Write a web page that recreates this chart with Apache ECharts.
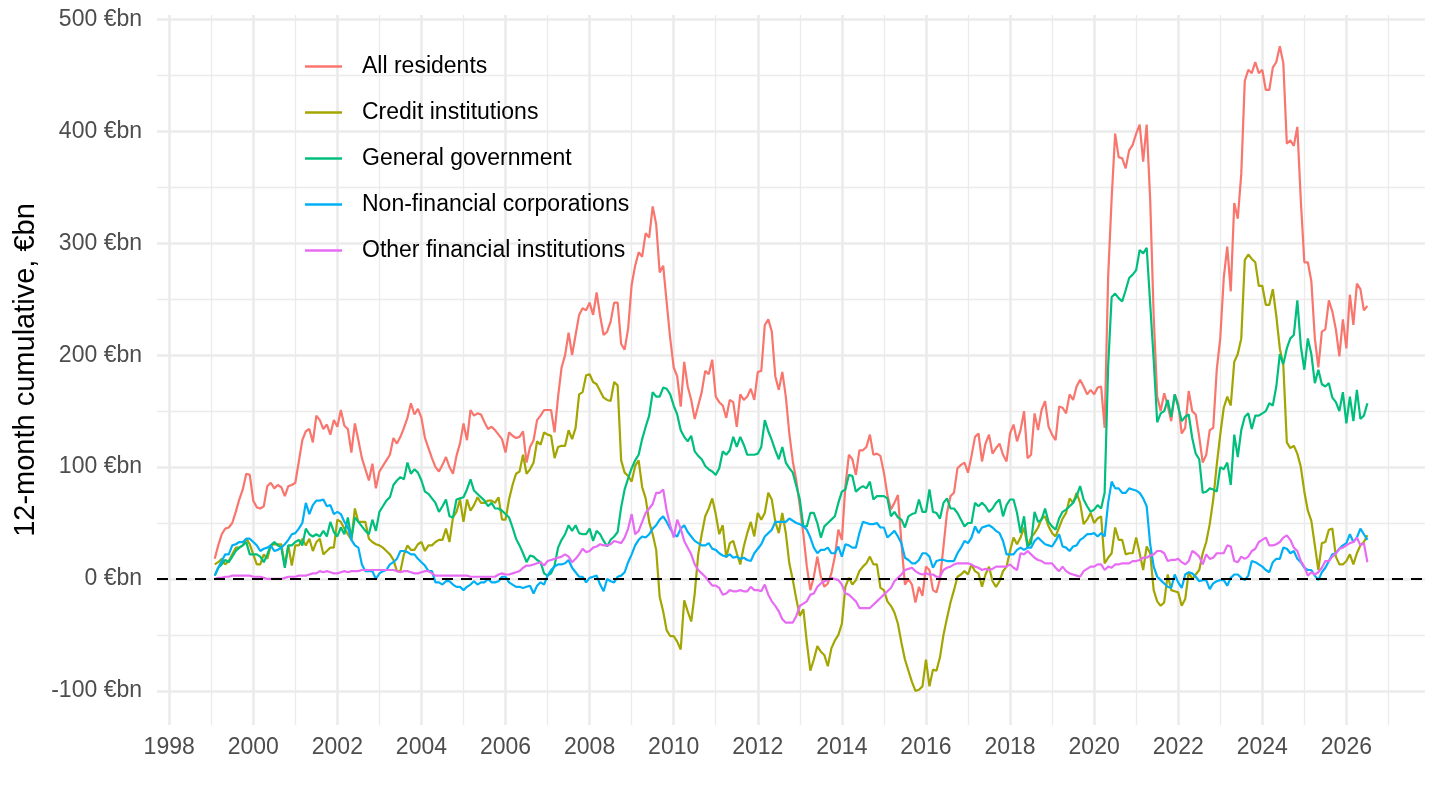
<!DOCTYPE html>
<html>
<head>
<meta charset="utf-8">
<script src="https://cdn.jsdelivr.net/npm/echarts@6/dist/echarts.min.js"></script>
<style>
  html, body { margin: 0; padding: 0; background: #ffffff; }
  #chart { width: 1440px; height: 810px; }
</style>
</head>
<body>
<div id="chart"></div>
<script>
// 12-month cumulative flows, €bn, monthly from Jan 1999 to Jun 2026 (month-end)
var startYear = 1999;

var seriesNames = ['All residents', 'Credit institutions', 'General government',
                   'Non-financial corporations', 'Other financial institutions'];
var seriesColors = ['#F8766D', '#A3A500', '#00BF7D', '#00B0F6', '#E76BF3'];

var allResidents = [
  18, 30, 40, 45, 46, 50, 60, 71, 80, 94, 93,
  70, 64, 63, 65, 83, 86, 81, 84, 82, 74, 83, 84,
  86, 105, 124, 132, 134, 122, 146, 142, 134, 138, 129, 142,
  136, 151, 137, 134, 113, 139, 124, 108, 98, 88, 103, 81,
  96, 101, 106, 111, 126, 121, 127, 135, 144, 157, 147, 152,
  144, 126, 117, 108, 100, 96, 102, 109, 100, 94, 110, 121,
  139, 124, 151, 146, 148, 147, 140, 134, 136, 133, 129, 125,
  113, 131, 128, 126, 127, 132, 104, 118, 124, 142, 146, 151,
  151, 151, 131, 163, 189, 200, 220, 200, 218, 236, 242, 240,
  247, 236, 256, 235, 218, 221, 230, 247, 247, 210, 205, 224,
  263, 280, 292, 288, 309, 305, 333, 317, 274, 280, 247, 215,
  189, 181, 154, 194, 172, 160, 143, 155, 167, 186, 183, 196,
  163, 158, 155, 144, 160, 158, 136, 165, 160, 163, 170, 160,
  185, 186, 227, 232, 221, 181, 169, 185, 163, 130, 105, 88,
  65, 40, 11, -10, 2, 20, 2, -7, -4, 5, 20, 44,
  35, 83, 111, 107, 93, 115, 115, 118, 129, 111, 112, 110,
  95, 75, 62, 68, 75, 32, -5, 0, -5, -21, -7, -15,
  11, 8, -10, -12, 0, 29, 59, 74, 77, 99, 102, 104,
  95, 110, 127, 130, 105, 121, 129, 112, 117, 121, 111, 105,
  130, 138, 123, 133, 150, 108, 111, 148, 133, 151, 159, 136,
  129, 124, 154, 153, 148, 165, 160, 172, 178, 172, 165, 169,
  165, 171, 172, 135, 270, 340, 398, 377, 376, 367, 383, 388,
  398, 406, 373, 406, 339, 235, 163, 150, 166, 155, 141, 165,
  157, 130, 135, 168, 150, 147, 127, 104, 111, 133, 135, 187,
  215, 269, 297, 257, 336, 322, 362, 445, 455, 452, 462, 452,
  455, 437, 437, 457, 462, 476, 461, 389, 392, 387, 404, 338,
  283, 283, 266, 215, 189, 221, 223, 249, 239, 223, 199, 232,
  206, 254, 227, 264, 259, 240, 244
];

var creditInstitutions = [
  13, 15, 18, 13, 16, 22, 28, 28, 30, 36, 31,
  22, 13, 13, 22, 18, 30, 31, 31, 31, 12, 30, 12,
  30, 30, 36, 30, 36, 25, 33, 36, 22, 25, 28, 28,
  53, 51, 45, 40, 35, 63, 51, 51, 51, 36, 33, 31,
  30, 28, 25, 22, 17, 7, 7, 22, 30, 26, 26, 31,
  33, 25, 30, 30, 33, 35, 35, 45, 33, 55, 60, 71,
  51, 71, 61, 66, 73, 68, 68, 70, 70, 68, 73, 53,
  53, 71, 84, 94, 96, 111, 94, 98, 104, 123, 120, 131,
  129, 128, 108, 118, 119, 119, 133, 125, 135, 165, 167, 182,
  183, 176, 174, 168, 162, 160, 159, 176, 173, 106, 95, 92,
  87, 101, 106, 82, 72, 51, 40, 26, -16, -29, -46, -51,
  -51, -56, -63, -19, -29, -38, -13, 22, 40, 56, 63, 72,
  58, 40, 48, 19, 32, 34, 23, 13, 29, 41, 51, 38,
  59, 53, 59, 77, 71, 51, 41, 59, 41, 14, -1, -18,
  -33, -27, -57, -82, -72, -60, -65, -68, -78, -62, -55, -50,
  -40, -7, 1, -5, -1, 7, 11, 14, 20, 13, 13, -8,
  -10, -20, -24, -30, -40, -57, -72, -82, -92, -100, -99, -96,
  -72, -96, -81, -82, -70, -50, -35, -21, -10, 2, 4, 7,
  4, 13, 7, 5, -7, 4, 11, -2, -7, -2, 7, 11,
  25, 37, 31, 37, 46, 29, 37, 41, 46, 54, 56, 47,
  41, 38, 46, 54, 59, 72, 68, 77, 68, 49, 53, 59,
  50, 54, 56, 14, 19, 23, 46, 35, 35, 22, 23, 23,
  37, 23, 8, 29, 23, -10, -20, -24, -21, 4, -10, -11,
  -12, -24, -18, 6, 0, 4, 8, 23, 33, 49, 71, 102,
  129, 153, 163, 155, 194, 201, 215, 285, 290, 286, 283, 262,
  262, 245, 245, 259, 235, 206, 191, 122, 117, 119, 112, 100,
  78, 61, 52, 30, 8, 32, 33, 44, 45, 20, 13, 13,
  16, 22, 13, 23, 30, 33, 39
];

var generalGovernment = [
  3, 10, 13, 17, 15, 20, 25, 28, 30, 33, 22,
  22, 22, 20, 15, 22, 30, 33, 30, 28, 10, 30, 30,
  33, 35, 30, 45, 40, 38, 40, 38, 43, 38, 51, 42,
  38, 46, 40, 55, 36, 55, 51, 47, 43, 40, 53, 43,
  60, 65, 70, 73, 84, 88, 91, 89, 104, 94, 98, 95,
  88, 78, 76, 72, 68, 60, 65, 71, 56, 55, 71, 72,
  73, 80, 89, 79, 76, 73, 70, 65, 68, 63, 63, 61,
  58, 55, 46, 36, 30, 23, 15, 21, 20, 17, 15, 5,
  3, 5, 12, 28, 35, 40, 48, 43, 48, 41, 40, 40,
  45, 34, 43, 40, 34, 29, 35, 38, 42, 64, 80, 90,
  99, 106, 111, 125, 136, 146, 167, 163, 163, 171, 170, 165,
  155, 147, 133, 127, 123, 128, 114, 110, 107, 101, 98, 96,
  93, 99, 114, 111, 115, 127, 118, 127, 120, 111, 111, 111,
  112, 118, 142, 132, 124, 115, 107, 118, 104, 99, 95, 83,
  71, 47, 47, 59, 59, 50, 37, 47, 50, 53, 56, 68,
  78, 80, 93, 92, 78, 81, 83, 81, 87, 71, 74, 74,
  74, 72, 56, 60, 55, 53, 46, 56, 58, 59, 71, 60,
  60, 80, 60, 59, 54, 68, 72, 63, 63, 59, 53, 47,
  50, 50, 68, 65, 68, 65, 60, 63, 68, 71, 56, 66,
  71, 71, 59, 41, 56, 29, 32, 60, 51, 53, 63, 51,
  47, 44, 54, 60, 62, 65, 68, 74, 83, 71, 65, 60,
  62, 66, 63, 77, 190, 252, 255, 251, 248, 258, 269, 272,
  276, 294, 291, 296, 246, 196, 140, 148, 150, 160, 145, 165,
  154, 141, 145, 147, 126, 112, 107, 77, 78, 81, 80, 78,
  100, 98, 104, 84, 129, 109, 133, 145, 148, 134, 146, 146,
  148, 150, 157, 155, 172, 201, 192, 206, 215, 218, 249, 208,
  187, 215, 201, 175, 187, 174, 172, 175, 162, 158, 150, 167,
  139, 163, 141, 169, 143, 146, 157
];

var nonFinancialCorps = [
  3, 10, 16, 22, 22, 30, 31, 33, 33, 36, 36,
  33, 30, 25, 27, 28, 30, 25, 26, 28, 31, 35, 40,
  41, 45, 50, 68, 58, 66, 70, 70, 71, 65, 66, 58,
  60, 58, 51, 46, 35, 30, 28, 13, 7, 7, 7, 0,
  5, 7, 8, 13, 15, 18, 25, 25, 24, 22, 22, 18,
  15, 12, 7, 7, -3, -3, -5, -2, -2, -5, -7, -7,
  -10, -7, -5, -2, -5, -3, -3, 0, -3, -3, -2, 2,
  2, -3, -5, -7, -7, -8, -7, -6, -13, -6, -3, -5,
  3, 8, 11, 13, 13, 14, 17, 10, 6, 2, 2, -3,
  1, 2, 3, -5, -11, 0, -2, -3, 2, 3, 6, 15,
  22, 30, 35, 38, 37, 40, 45, 48, 53, 56, 51, 45,
  40, 38, 45, 48, 42, 38, 34, 32, 30, 30, 32, 27,
  26, 23, 21, 20, 22, 19, 20, 18, 19, 17, 16, 23,
  27, 31, 38, 41, 44, 51, 51, 51, 51, 54, 52, 50,
  49, 47, 44, 37, 28, 23, 26, 26, 28, 23, 23, 29,
  20, 31, 30, 28, 28, 41, 51, 50, 49, 49, 50, 46,
  46, 37, 40, 43, 38, 32, 19, 17, 14, 14, 17, 23,
  23, 20, 10, 16, 17, 17, 16, 16, 16, 23, 28, 34,
  32, 37, 47, 41, 46, 47, 48, 46, 43, 41, 34, 22,
  22, 22, 26, 28, 26, 28, 28, 34, 37, 34, 31, 30,
  29, 34, 40, 29, 28, 25, 29, 30, 35, 37, 40, 40,
  41, 38, 41, 38, 68, 87, 81, 81, 77, 77, 81, 80,
  79, 77, 72, 65, 31, 11, 2, -1, -4, -7, -8, 4,
  -3, -8, 4, 6, 5, 2, -2, -1, -1, -9, -4, -2,
  -1, -1, -6, 1, 4, 4, 1, -1, 3, 16, 15, 13,
  11, 8, 6, 15, 18, 18, 28, 27, 23, 25, 18, 15,
  10, 8, 8, 3, -1, 6, 10, 16, 22, 23, 27, 30,
  32, 40, 33, 37, 45, 40, 35
];

var otherFinancial = [
  0, 1, 1, 2, 2, 3, 3, 3, 3, 3, 3,
  2, 2, 2, 1, 0, 0, 0, 0, 0, 1, 2, 2,
  2, 3, 3, 3, 4, 5, 5, 7, 6, 7, 6, 5,
  5, 6, 7, 6, 7, 7, 7, 8, 8, 8, 8, 8,
  8, 8, 8, 8, 8, 7, 6, 7, 7, 6, 5, 5,
  6, 7, 7, 5, 3, 3, 3, 3, 3, 3, 3, 3,
  3, 3, 2, 2, 2, 2, 2, 2, 2, 2, 4, 5,
  4, 4, 5, 6, 7, 10, 12, 12, 13, 14, 15, 12,
  16, 17, 18, 19, 20, 22, 20, 15, 18, 22, 27, 24,
  25, 28, 29, 31, 30, 30, 31, 34, 33, 32, 37, 45,
  58, 40, 43, 51, 59, 63, 67, 77, 77, 80, 61, 48,
  37, 53, 45, 34, 28, 22, 13, 8, 5, 2, -2, -6,
  -6, -8, -14, -13, -10, -11, -11, -10, -11, -11, -7, -10,
  -10, -11, -5, -14, -20, -24, -29, -36, -39, -39, -39, -33,
  -24, -22, -20, -14, -13, -7, -4, -2, -1, 1, 0, -1,
  -5, -13, -14, -17, -20, -26, -26, -26, -26, -23, -20, -17,
  -14, -11, -8, -2, 1, 4, 8, 9, 10, 7, 5, 4,
  5, 4, 4, 2, 2, 8, 10, 11, 13, 14, 14, 14,
  14, 13, 11, 10, 8, 9, 8, 9, 11, 11, 11, 11,
  13, 10, 8, 23, 22, 25, 22, 19, 17, 16, 14, 14,
  14, 10, 7, 11, 7, 5, 4, 3, 2, 7, 9, 11,
  11, 13, 13, 8, 11, 10, 13, 13, 14, 14, 14, 16,
  16, 17, 19, 19, 21, 22, 25, 25, 23, 16, 17, 17,
  18, 15, 13, 16, 25, 23, 20, 13, 22, 18, 19, 23,
  23, 23, 30, 29, 16, 15, 20, 18, 20, 25, 27, 33,
  35, 37, 30, 30, 31, 33, 37, 39, 35, 28, 25, 16,
  11, 3, 6, 4, 6, 10, 16, 16, 20, 23, 27, 28,
  30, 32, 33, 37, 30, 32, 15
];

// axis ticks
var xMajorTicks = [1998, 2000, 2002, 2004, 2006, 2008, 2010, 2012, 2014, 2016, 2018, 2020, 2022, 2024, 2026];
var xMinorTicks = [1999, 2001, 2003, 2005, 2007, 2009, 2011, 2013, 2015, 2017, 2019, 2021, 2023, 2025, 2027];
var yMajorTicks = [-100, 0, 100, 200, 300, 400, 500];
var yMinorTicks = [-50, 50, 150, 250, 350, 450];

var font = '"Liberation Sans", Arial, Helvetica, sans-serif';
var gridColor = '#EBEBEB';

// month i of the series sits at the end of that month, as a decimal year
function toPairs(vals) {
    return vals.map(function (v, i) { return [startYear + (i + 1) / 12, v]; });
}

var allData = [allResidents, creditInstitutions, generalGovernment, nonFinancialCorps, otherFinancial];

var series = allData.map(function (vals, k) {
    var s = {
        name: seriesNames[k],
        type: 'line',
        data: toPairs(vals),
        symbol: 'none',
        lineStyle: { color: seriesColors[k], width: 2.2 },
        itemStyle: { color: seriesColors[k] },
        emphasis: { disabled: true }
    };
    if (k === allData.length - 1) {
        s.markLine = {
            silent: true,
            symbol: 'none',
            label: { show: false },
            lineStyle: { color: '#000000', type: [11, 8], width: 2.2 },
            data: [{ yAxis: 0 }]
        };
    }
    return s;
});

var chart = echarts.init(document.getElementById('chart'), null, { renderer: 'canvas' });

var option = {
    backgroundColor: '#ffffff',
    animation: false,
    textStyle: { fontFamily: font },
    grid: { left: 157, right: 15, top: 15, bottom: 85 },
    legend: {
        orient: 'vertical',
        left: 300,
        top: 50,
        icon: 'rect',
        itemWidth: 37,
        itemHeight: 2.5,
        itemGap: 23,
        textStyle: { fontFamily: font, fontSize: 23, color: '#000000', lineHeight: 23, padding: [0, 0, 0, 15] },
        data: seriesNames
    },
    xAxis: [{
        type: 'value',
        min: 1997.71,
        max: 2027.87,
        axisLine: { show: false },
        axisTick: { show: false, customValues: xMajorTicks },
        axisLabel: {
            customValues: xMajorTicks,
            color: '#4D4D4D', fontSize: 23, fontFamily: font, margin: 11,
            formatter: function (v) { return String(Math.round(v)); }
        },
        splitLine: { show: true, lineStyle: { color: gridColor, width: 2.6 } }
    }, {
        type: 'value',
        min: 1997.71,
        max: 2027.87,
        position: 'top',
        axisLine: { show: false },
        axisTick: { show: false, customValues: xMinorTicks },
        axisLabel: { show: false, customValues: xMinorTicks },
        splitLine: { show: true, lineStyle: { color: gridColor, width: 1.3 } }
    }],
    yAxis: [{
        type: 'value',
        min: -130.5,
        max: 504,
        name: '12-month cumulative, €bn',
        nameLocation: 'middle',
        nameGap: 113,
        nameTextStyle: { fontFamily: font, fontSize: 29, color: '#000000' },
        axisLine: { show: false },
        axisTick: { show: false, customValues: yMajorTicks },
        axisLabel: {
            customValues: yMajorTicks,
            color: '#4D4D4D', fontSize: 23, fontFamily: font, margin: 15,
            formatter: function (v) { return Math.round(v) + ' €bn'; }
        },
        splitLine: { show: true, lineStyle: { color: gridColor, width: 2.6 } }
    }, {
        type: 'value',
        min: -130.5,
        max: 504,
        position: 'right',
        axisLine: { show: false },
        axisTick: { show: false, customValues: yMinorTicks },
        axisLabel: { show: false, customValues: yMinorTicks },
        splitLine: { show: true, lineStyle: { color: gridColor, width: 1.3 } }
    }],
    series: series
};

chart.setOption(option);
</script>
</body>
</html>
